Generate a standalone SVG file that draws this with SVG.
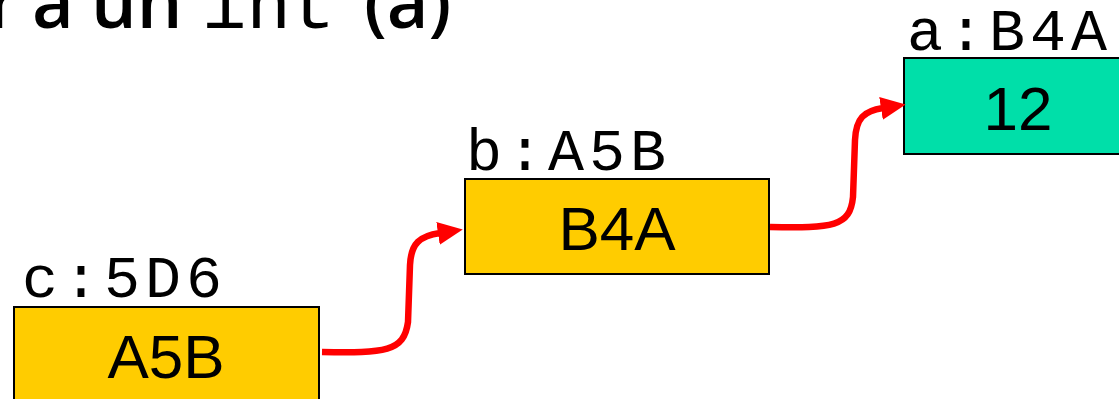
<svg xmlns="http://www.w3.org/2000/svg" width="1119" height="399" viewBox="0 0 1119 399">
  <style>
    .cell { stroke: #000; stroke-width: 2; }
    .ptr { fill: #FFCC00; }
    .val { fill: #00DFA9; }
    .content { font-family: "Liberation Sans", Arial, sans-serif; font-size: 62px; fill: #000; text-anchor: middle; }
    .addr { font-family: "Liberation Mono", "Courier New", monospace; font-size: 60px; letter-spacing: 5px; fill: #000; }
    .title { font-family: "Open Sans", "Liberation Sans", sans-serif; font-weight: 600; font-size: 72px; fill: #000; }
    .code { font-family: "Liberation Mono", "Courier New", monospace; font-weight: normal; font-size: 74px; }
    .link { fill: none; stroke: #FF0000; stroke-width: 6.5; stroke-linecap: butt; marker-end: url(#head); }
  </style>
  <defs>
    <marker id="head" markerUnits="userSpaceOnUse" markerWidth="28" markerHeight="26" refX="2" refY="11.5" orient="auto">
      <path d="M0,0 L25,11.5 L0,23 Z" fill="#FF0000"/>
    </marker>
  </defs>

  <rect width="1119" height="399" fill="#FFFFFF"/>

  <!-- heading line, partly outside the frame -->
  <g id="heading">
    <text class="title" y="28"><tspan x="-12">r</tspan><tspan x="32">a</tspan><tspan x="91">un</tspan><tspan class="code" x="202">int</tspan><tspan x="364">(a)</tspan></text>
  </g>

  <!-- c: pointer to pointer -->
  <g id="node-c">
    <text class="addr" x="22" y="297">c:5D6</text>
    <rect class="cell ptr" x="14" y="307" width="305" height="96"/>
    <text class="content" x="166" y="378">A5B</text>
  </g>

  <!-- b: pointer -->
  <g id="node-b">
    <text class="addr" x="466" y="170">b:A5B</text>
    <rect class="cell ptr" x="465" y="179" width="304" height="95"/>
    <text class="content" x="617" y="250">B4A</text>
  </g>

  <!-- a: int value -->
  <g id="node-a">
    <text class="addr" x="907" y="50">a:B4A</text>
    <rect class="cell val" x="904" y="58" width="305" height="96"/>
    <text class="content" x="1018" y="130">12</text>
  </g>

  <!-- pointer links -->
  <g id="connectors">
    <path class="link" d="M322,352 C385,353 404,352 408,322 L410,265 C411,243 420,236 440,233"/>
    <path class="link" d="M770,227 C833,228 850,227 853,197 L855,140 C856,118 864,111 883,108"/>
  </g>
</svg>
